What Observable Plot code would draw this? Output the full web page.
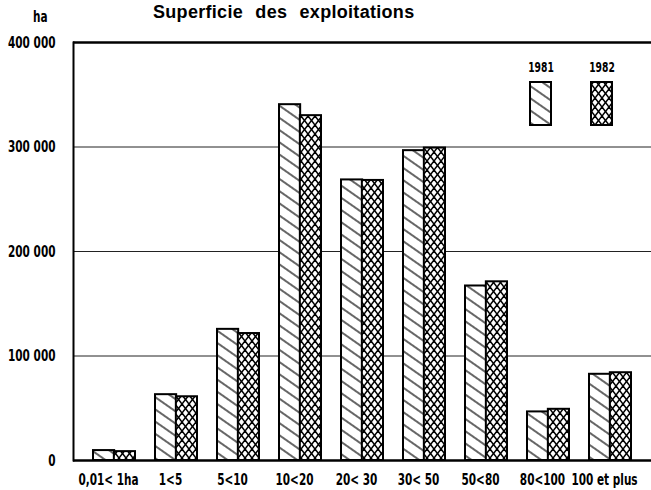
<!DOCTYPE html>
<html>
<head>
<meta charset="utf-8">
<script src="https://cdn.jsdelivr.net/npm/d3@7"></script>
<script src="https://cdn.jsdelivr.net/npm/@observablehq/plot@0.6"></script>
<style>
  body { margin: 0; background: #fff; }
  #wrap { position: relative; width: 651px; height: 490px; overflow: hidden; background: #fff; }
  #header { position: relative; height: 26px; }
  #title { position: absolute; left: 153px; top: 3px; font-family: "Liberation Sans", Arial, sans-serif; font-weight: bold; font-size: 18px; line-height: 18px; letter-spacing: 0.3px; word-spacing: 7px; white-space: nowrap; color: #000; }
  #unit { position: absolute; left: 33px; top: 9px; font-family: "DejaVu Sans Condensed", "DejaVu Sans", sans-serif; font-weight: bold; font-size: 16px; line-height: 16px; color: #000; transform: scaleX(0.73); transform-origin: 0 0; }
</style>
</head>
<body>
<svg width="0" height="0" style="position:absolute">
  <defs>
    <pattern id="h81" patternUnits="userSpaceOnUse" width="10" height="10" patternTransform="rotate(35)">
      <rect width="10" height="10" fill="#fff"></rect>
      <line x1="-1" y1="5" x2="11" y2="5" stroke="#000" stroke-width="1.2"></line>
    </pattern>
    <pattern id="h82" patternUnits="userSpaceOnUse" width="7" height="9">
      <rect width="7" height="9" fill="#fff"></rect>
      <line x1="0" y1="0" x2="7" y2="9" stroke="#000" stroke-width="1.5"></line>
      <line x1="7" y1="0" x2="0" y2="9" stroke="#000" stroke-width="1.5"></line>
    </pattern>
  </defs>
</svg>
<div id="wrap">
  <div id="header">
    <div id="title">Superficie des exploitations</div>
    <div id="unit">ha</div>
  </div>
  <div id="chart"></div>
</div>
<script>
const categories = ["0,01< 1ha", "1<5", "5<10", "10<20", "20< 30", "30< 50", "50<80", "80<100", "100 et plus"];
const values1981 = [9500, 63000, 125500, 340500, 268500, 296500, 167000, 46500, 82500];
const values1982 = [8500, 61000, 121500, 330000, 268000, 299000, 171000, 49000, 84000];
const years = ["1981", "1982"];
const yTicks = [0, 100000, 200000, 300000, 400000];

const data81 = categories.map((c, i) => ({cat: c, value: values1981[i]}));
const data82 = categories.map((c, i) => ({cat: c, value: values1982[i]}));

const W = 651, H = 464, mL = 73, mR = 0, mT = 16, mB = 30;
const pInner = 0.33, pOuter = 0.31;
const step = (W - mL - mR) / (categories.length - pInner + 2 * pOuter);
const half = step * (1 - pInner) / 2;
const narrow = 0.73;

const font = '"DejaVu Sans Condensed", "DejaVu Sans", sans-serif';
const fmt = d => d3.format(",")(d).replace(/,/g, " ");

const chart = Plot.plot({
  width: W, height: H,
  marginLeft: mL, marginRight: mR, marginTop: mT, marginBottom: mB,
  style: {fontFamily: font, fontSize: "16px", fontWeight: "bold", background: "#fff", color: "#000", overflow: "visible"},
  x: {domain: categories, paddingInner: pInner, paddingOuter: pOuter, label: null},
  y: {domain: [0, 400000], label: null},
  marks: [
    Plot.ruleY([100000, 200000, 300000], {stroke: "#222", strokeWidth: 1}),
    Plot.barY(data81, {x: "cat", y: "value", fill: "url(#h81)", stroke: "#000", strokeWidth: 2, insetRight: half, insetLeft: 0}),
    Plot.barY(data82, {x: "cat", y: "value", fill: "url(#h82)", stroke: "#000", strokeWidth: 2, insetLeft: half, insetRight: 0}),
    Plot.ruleY([0], {stroke: "#000", strokeWidth: 2.5}),
    Plot.ruleY([400000], {stroke: "#000", strokeWidth: 2.5}),
    Plot.frame({anchor: "left", stroke: "#000", strokeWidth: 2}),
    Plot.axisY({ticks: yTicks, tickSize: 0, tickPadding: 18, tickFormat: fmt, label: null}),
    Plot.axisX({tickSize: 0, tickPadding: 13, dx: -6, label: null})
  ]
});
document.getElementById("chart").appendChild(chart);

// legend inside the plot area
const svg = d3.select(chart);
const lg = svg.append("g").attr("font-family", font).attr("font-weight", "bold").attr("font-size", "14px");
const legendItems = [
  {label: years[0], fill: "url(#h81)", x: 530},
  {label: years[1], fill: "url(#h82)", x: 591}
];
legendItems.forEach(d => {
  lg.append("text").attr("x", d.x + 11).attr("y", 46).attr("text-anchor", "middle").text(d.label);
  lg.append("rect").attr("x", d.x).attr("y", 56).attr("width", 21).attr("height", 43)
    .attr("fill", d.fill).attr("stroke", "#000").attr("stroke-width", 2);
});

// narrow (condensed) lettering like the original
svg.selectAll("text").each(function() {
  const t = d3.select(this);
  const x = parseFloat(t.attr("x")) || 0;
  const prev = t.attr("transform") || "";
  t.attr("transform", `${prev} translate(${x},0) scale(${narrow},1) translate(${-x},0)`);
});
</script>
</body>
</html>
